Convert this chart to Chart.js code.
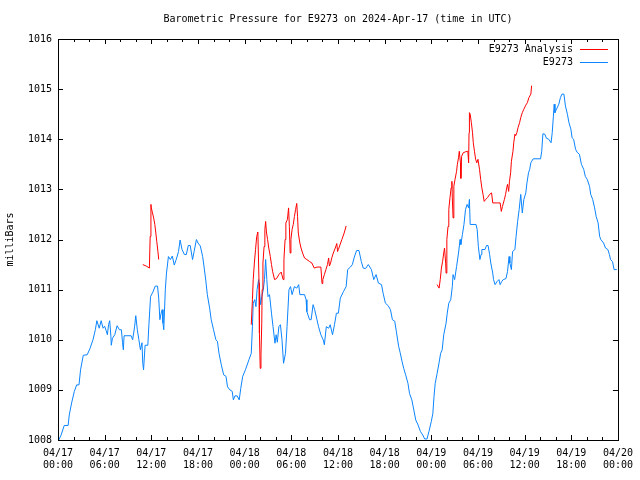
<!DOCTYPE html>
<html>
<head>
<meta charset="utf-8">
<script src="https://cdn.jsdelivr.net/npm/chart.js@4.4.1/dist/chart.umd.min.js"></script>
<style>
  html, body { margin: 0; padding: 0; background: #fff; }
  #wrap { width: 640px; height: 480px; }
</style>
</head>
<body>
<div id="wrap"><canvas id="pressureChart" width="640" height="480"></canvas></div>
<script>
// --------------------------
// Data (hours since 04/17 00:00 UTC, millibars)
// --------------------------
const tickDates = ["04/17", "04/17", "04/17", "04/17", "04/18", "04/18", "04/18", "04/18", "04/19", "04/19", "04/19", "04/19", "04/20"];
const tickTimes = ["00:00", "06:00", "12:00", "18:00", "00:00", "06:00", "12:00", "18:00", "00:00", "06:00", "12:00", "18:00", "00:00"];

const stationHours = [
  0.1, 0.4, 0.8, 1.3, 1.45, 1.75, 2.1, 2.4, 2.7, 2.9, 3.25, 3.75, 4.1, 4.5, 4.8, 5.0, 5.3, 5.55, 5.8, 6.0,
  6.2, 6.35, 6.5, 6.65, 6.8, 6.85, 7.0, 7.3, 7.6, 7.9, 8.15, 8.3, 8.4, 8.5, 9.4, 9.6, 9.85, 10.0, 10.2, 10.4,
  10.6, 10.8, 10.9, 11.0, 11.2, 11.55, 11.7, 11.9, 12.2, 12.5, 12.8, 12.95, 13.1, 13.25, 13.4, 13.5, 13.6, 13.8, 13.95, 14.2,
  14.45, 14.7, 14.95, 15.2, 15.5, 15.7, 15.95, 16.25, 16.5, 16.75, 17.0, 17.3, 17.5, 17.8, 18.0, 18.3, 18.6, 18.8, 19.0, 19.2,
  19.5, 19.7, 20.0, 20.3, 20.5, 20.7, 21.0, 21.3, 21.6, 21.8, 22.1, 22.4, 22.55, 22.75, 23.05, 23.3, 23.5, 23.75, 24.1, 24.55,
  24.85, 25.0, 25.1, 25.3, 25.45, 25.6, 25.8, 26.05, 26.2, 26.4, 26.55, 26.7, 26.85, 27.0, 27.2, 27.45, 27.65, 27.9, 28.05, 28.2,
  28.4, 28.6, 28.8, 29.0, 29.25, 29.45, 29.7, 29.9, 30.1, 30.4, 30.7, 30.95, 31.1, 31.7, 31.9, 32.0, 32.35, 32.55, 32.8, 33.0,
  33.3, 33.5, 33.8, 34.1, 34.25, 34.5, 34.8, 35.0, 35.3, 35.55, 35.8, 36.05, 36.3, 36.7, 37.05, 37.25, 37.6, 37.85, 38.1, 38.4,
  38.7, 39.0, 39.25, 39.55, 39.9, 40.3, 40.6, 40.9, 41.2, 41.6, 41.8, 42.1, 42.45, 42.75, 43.0, 43.3, 43.5, 43.8, 44.0, 44.25,
  44.45, 44.7, 45.0, 45.2, 45.5, 45.75, 46.0, 46.3, 46.6, 46.9, 47.15, 47.45, 47.7, 48.0, 48.2, 48.35, 48.5, 48.75, 49.0, 49.2,
  49.4, 49.6, 49.9, 50.05, 50.25, 50.5, 50.7, 50.8, 51.0, 51.25, 51.5, 51.7, 51.8, 52.0, 52.2, 52.4, 52.6, 52.8, 52.9, 53.0,
  53.75, 53.9, 54.05, 54.25, 54.4, 54.5, 54.9, 55.1, 55.3, 55.5, 55.65, 55.9, 56.0, 56.2, 56.45, 56.7, 56.85, 57.05, 57.25, 57.6,
  57.8, 58.0, 58.1, 58.3, 58.45, 58.75, 58.9, 59.1, 59.3, 59.5, 59.7, 59.9, 60.15, 60.3, 60.5, 60.65, 60.8, 61.1, 62.05, 62.2,
  62.35, 62.6, 62.8, 63.1, 63.4, 63.55, 63.7, 63.8, 63.9, 64.1, 64.4, 64.6, 64.8, 65.05, 65.25, 65.5, 65.7, 65.95, 66.1, 66.3,
  66.55, 66.75, 67.05, 67.3, 67.6, 67.8, 68.05, 68.35, 68.5, 68.75, 69.0, 69.2, 69.45, 69.65, 69.8, 70.15, 70.4, 70.7, 70.9, 71.05,
  71.3, 71.5, 71.85
];
const stationValues = [
  1008.0, 1008.1, 1008.29, 1008.29, 1008.5, 1008.74, 1008.97, 1009.1, 1009.1, 1009.4, 1009.69, 1009.7, 1009.82, 1010.0, 1010.2, 1010.38, 1010.23, 1010.38, 1010.23, 1010.27,
  1010.18, 1010.1, 1010.3, 1010.38, 1010.07, 1009.89, 1010.03, 1010.1, 1010.28, 1010.2, 1010.2, 1009.94, 1009.8, 1010.08, 1010.08, 1010.0, 1010.26, 1010.48, 1010.2, 1010.0,
  1009.8, 1009.94, 1009.53, 1009.4, 1009.89, 1009.89, 1010.33, 1010.86, 1010.95, 1011.07, 1011.07, 1010.83, 1010.4, 1010.52, 1010.6, 1010.33, 1010.2, 1011.0, 1011.33, 1011.66,
  1011.6, 1011.67, 1011.49, 1011.6, 1011.76, 1011.99, 1011.8, 1011.7, 1011.7, 1011.88, 1011.88, 1011.6, 1011.76, 1012.0, 1011.93, 1011.87, 1011.66, 1011.43, 1011.19, 1010.9,
  1010.63, 1010.4, 1010.2, 1010.0, 1009.97, 1009.73, 1009.5, 1009.3, 1009.27, 1009.06, 1009.0, 1008.97, 1008.8, 1008.88, 1008.88, 1008.8, 1009.03, 1009.27, 1009.4, 1009.6,
  1009.73, 1010.26, 1010.73, 1010.8, 1010.66, 1011.0, 1011.2, 1010.7, 1010.86, 1011.0, 1011.2, 1011.6, 1011.2, 1010.86, 1010.9, 1010.53, 1010.26, 1009.93, 1010.1, 1009.95,
  1010.26, 1010.3, 1010.0, 1009.53, 1009.73, 1010.26, 1011.0, 1011.06, 1010.9, 1011.06, 1011.03, 1011.1, 1010.9, 1010.9, 1010.8, 1010.56, 1010.4, 1010.4, 1010.7, 1010.6,
  1010.4, 1010.26, 1010.1, 1010.0, 1009.9, 1010.26, 1010.23, 1010.3, 1010.1, 1010.3, 1010.53, 1010.53, 1010.83, 1010.96, 1011.06, 1011.4, 1011.45, 1011.5, 1011.65, 1011.78,
  1011.78, 1011.56, 1011.43, 1011.42, 1011.5, 1011.4, 1011.2, 1011.3, 1011.13, 1011.1, 1010.93, 1010.73, 1010.68, 1010.6, 1010.4, 1010.37, 1010.17, 1009.87, 1009.74, 1009.56,
  1009.43, 1009.3, 1009.13, 1008.93, 1008.8, 1008.6, 1008.4, 1008.3, 1008.17, 1008.1, 1008.02, 1008.02, 1008.17, 1008.37, 1008.53, 1008.87, 1009.13, 1009.33, 1009.54, 1009.73,
  1009.8, 1010.1, 1010.33, 1010.53, 1010.73, 1010.8, 1011.06, 1011.3, 1011.2, 1011.46, 1011.73, 1012.0, 1011.9, 1012.1, 1012.3, 1012.6, 1012.7, 1012.63, 1012.8, 1012.3,
  1012.3, 1012.2, 1011.86, 1011.6, 1011.7, 1011.8, 1011.8, 1011.88, 1011.88, 1011.7, 1011.53, 1011.33, 1011.2, 1011.1, 1011.16, 1011.2, 1011.1, 1011.16, 1011.2, 1011.22,
  1011.36, 1011.66, 1011.53, 1011.4, 1011.76, 1011.8, 1012.06, 1012.36, 1012.6, 1012.9, 1012.53, 1012.8, 1012.93, 1013.13, 1013.33, 1013.4, 1013.53, 1013.61, 1013.61, 1013.76,
  1014.11, 1014.1, 1014.02, 1014.0, 1013.93, 1014.13, 1014.46, 1014.7, 1014.53, 1014.6, 1014.7, 1014.83, 1014.9, 1014.9, 1014.66, 1014.5, 1014.33, 1014.2, 1014.03, 1014.0,
  1013.8, 1013.74, 1013.7, 1013.5, 1013.4, 1013.26, 1013.2, 1013.06, 1012.9, 1012.8, 1012.63, 1012.46, 1012.33, 1012.06, 1012.0, 1011.93, 1011.83, 1011.8, 1011.7, 1011.6,
  1011.56, 1011.4, 1011.4
];

// analysis runs, null marks a gap between runs
const analysisHours = [
  10.9, 11.35, 11.75, 11.85, 11.95, 12.0, 12.15, 12.3, 12.45, 12.55, 12.7, 12.85, 12.95,
  18.0,
  24.85, 25.0, 25.1, 25.25, 25.4, 25.55, 25.7, 25.85, 25.9, 26.0, 26.1, 26.2, 26.25, 26.35, 26.5, 26.6, 26.7, 26.8, 26.95, 27.1,
  27.3, 27.45, 27.6, 27.85, 28.1, 28.4, 28.7, 28.95, 29.05, 29.2, 29.3, 29.5, 29.65, 29.75, 29.85, 29.95, 30.1, 30.25, 30.4, 30.55,
  30.7, 30.8, 30.9, 31.1, 31.25, 31.45, 31.7, 32.0, 32.35, 32.65, 32.95, 33.3, 33.8, 33.95, 34.05, 34.25, 34.45, 34.65, 34.8, 34.9,
  35.05, 35.2, 35.4, 35.65, 35.85, 35.95, 36.05, 36.5, 36.8, 37.05,
  42.0,
  48.75, 49.0, 49.15, 49.3, 49.45, 49.6, 49.7, 49.85, 49.9, 50.0, 50.15, 50.25, 50.4, 50.55, 50.65, 50.7, 50.8, 50.9, 51.05, 51.25,
  51.35, 51.5, 51.6, 51.75, 51.8, 51.9, 52.1, 52.4, 52.7, 52.8, 52.85, 52.9, 53.0, 53.15, 53.3, 53.4, 53.55, 53.7, 53.85, 54.0,
  54.2, 54.35, 54.5, 54.65, 54.8, 55.0, 55.25, 55.5, 55.75, 55.9, 56.5, 56.85, 57.0, 57.15, 57.4, 57.55, 57.7, 57.8, 57.95, 58.05,
  58.2, 58.3, 58.5, 58.6, 58.75, 58.85, 59.0, 59.15, 59.35, 59.5, 59.7, 59.9, 60.15, 60.35, 60.55, 60.8, 60.9
];
const analysisValues = [
  1011.5, 1011.47, 1011.43, 1012.06, 1012.7, 1012.63, 1012.53, 1012.43, 1012.3, 1012.17, 1011.96, 1011.76, 1011.6,
  null,
  1010.3, 1010.8, 1011.2, 1011.53, 1011.8, 1012.06, 1012.15, 1011.13, 1010.13, 1009.43, 1009.7, 1010.33, 1011.0, 1011.53, 1011.86, 1012.2, 1012.36, 1012.15, 1012.0, 1011.83,
  1011.66, 1011.5, 1011.36, 1011.2, 1011.22, 1011.3, 1011.35, 1011.2, 1011.6, 1012.0, 1012.33, 1012.4, 1012.63, 1012.26, 1011.73, 1012.0, 1012.2, 1012.3, 1012.46, 1012.6,
  1012.72, 1012.46, 1012.13, 1011.93, 1011.83, 1011.73, 1011.63, 1011.6, 1011.56, 1011.53, 1011.43, 1011.45, 1011.45, 1011.12, 1011.2, 1011.3, 1011.4, 1011.5, 1011.63, 1011.47,
  1011.53, 1011.63, 1011.73, 1011.83, 1011.92, 1011.76, 1011.8, 1012.0, 1012.13, 1012.27,
  null,
  1011.1, 1011.03, 1011.2, 1011.43, 1011.56, 1011.73, 1011.83, 1011.53, 1011.33, 1012.0, 1012.26, 1012.6, 1012.83, 1013.03, 1013.16, 1012.83, 1012.43, 1013.06, 1013.2, 1013.36,
  1013.5, 1013.63, 1013.76, 1013.53, 1013.22, 1013.66, 1013.73, 1013.75, 1013.76, 1013.53, 1014.13, 1014.53, 1014.5, 1014.33, 1014.13, 1013.93, 1013.76, 1013.6, 1013.53, 1013.6,
  1013.4, 1013.2, 1013.03, 1012.9, 1012.76, 1012.8, 1012.84, 1012.9, 1012.93, 1012.73, 1012.73, 1012.73, 1012.56, 1012.66, 1012.8, 1012.9, 1013.03, 1013.1, 1012.96, 1013.16,
  1013.33, 1013.56, 1013.76, 1013.93, 1014.1, 1014.07, 1014.13, 1014.23, 1014.33, 1014.43, 1014.53, 1014.6, 1014.68, 1014.73, 1014.83, 1014.9, 1015.07
];

const MONO = "'DejaVu Sans Mono', 'Liberation Mono', monospace";

function toPoints(hours, values) {
  return hours.map((h, i) => ({ x: h, y: values[i] }));
}

// --------------------------
// Plugins: gnuplot style frame with inward ticks, legend on the right
// --------------------------
const framePlugin = {
  id: "frame",
  afterDatasetsDraw(chart) {
    const { ctx, chartArea: a, scales } = chart;
    ctx.save();
    ctx.strokeStyle = "#000";
    ctx.lineWidth = 1;
    ctx.beginPath();
    // x ticks every 2 hours, longer every 6
    for (let h = 0; h <= 72; h += 2) {
      const x = Math.round(scales.x.getPixelForValue(h)) + 0.5;
      const len = h % 6 === 0 ? 5 : 3;
      ctx.moveTo(x, a.bottom); ctx.lineTo(x, a.bottom - len);
      ctx.moveTo(x, a.top); ctx.lineTo(x, a.top + len);
    }
    // y ticks every millibar
    for (let v = 1008; v <= 1016; v++) {
      const y = Math.round(scales.y.getPixelForValue(v)) + 0.5;
      ctx.moveTo(a.left, y); ctx.lineTo(a.left + 5, y);
      ctx.moveTo(a.right, y); ctx.lineTo(a.right - 5, y);
    }
    ctx.stroke();
    ctx.strokeRect(Math.round(a.left) + 0.5, Math.round(a.top) + 0.5, Math.round(a.right - a.left), Math.round(a.bottom - a.top));
    ctx.restore();
  },
  afterDraw(chart) {
    const { ctx, chartArea: a } = chart;
    ctx.save();
    ctx.font = "10px " + MONO;
    ctx.textAlign = "right";
    ctx.textBaseline = "middle";
    chart.data.datasets.forEach((ds, i) => {
      const y = a.top + 10 + i * 13;
      ctx.fillStyle = "#000";
      ctx.fillText(ds.label, a.right - 45, y);
      ctx.strokeStyle = ds.borderColor;
      ctx.lineWidth = 1;
      ctx.beginPath();
      ctx.moveTo(a.right - 38, Math.round(y) + 0.5);
      ctx.lineTo(a.right - 10, Math.round(y) + 0.5);
      ctx.stroke();
    });
    ctx.restore();
  },
};

// --------------------------
// Chart
// --------------------------
const pressureChart = new Chart(document.getElementById("pressureChart"), {
  type: "line",
  data: {
    datasets: [
      {
        label: "E9273 Analysis",
        data: toPoints(analysisHours, analysisValues),
        borderColor: "#ff0000",
        borderWidth: 1,
        pointRadius: 0,
        spanGaps: false,
      },
      {
        label: "E9273",
        data: toPoints(stationHours, stationValues),
        borderColor: "#0a84ff",
        borderWidth: 1,
        pointRadius: 0,
      },
    ],
  },
  options: {
    responsive: false,
    animation: false,
    layout: { autoPadding: false, padding: { left: 0, right: 19, top: 0, bottom: 0 } },
    plugins: {
      legend: { display: false },
      tooltip: { enabled: false },
      title: {
        display: true,
        fullSize: false,
        text: "Barometric Pressure for E9273 on 2024-Apr-17 (time in UTC)",
        color: "#000",
        font: { family: MONO, size: 10, weight: "normal" },
        padding: { top: 13, bottom: 14 },
      },
    },
    scales: {
      x: {
        type: "linear",
        min: 0,
        max: 72,
        grid: { display: false, drawTicks: false },
        border: { display: false },
        afterFit(scale) { scale.height = 40; },
        ticks: {
          stepSize: 6,
          autoSkip: false,
          maxRotation: 0,
          padding: 7,
          color: "#000",
          font: { family: MONO, size: 10 },
          callback: (value) => {
            const i = Math.round(value / 6);
            return [tickDates[i], tickTimes[i]];
          },
        },
      },
      y: {
        min: 1008,
        max: 1016,
        grid: { display: false, drawTicks: false },
        border: { display: false },
        afterFit(scale) { scale.width = 58; },
        title: {
          display: true,
          text: "milliBars",
          color: "#000",
          font: { family: MONO, size: 10 },
          padding: { top: 4, bottom: 0 },
        },
        ticks: {
          stepSize: 1,
          padding: 6,
          color: "#000",
          font: { family: MONO, size: 10 },
          callback: (value) => String(value),
        },
      },
    },
  },
  plugins: [framePlugin],
});
</script>
</body>
</html>
